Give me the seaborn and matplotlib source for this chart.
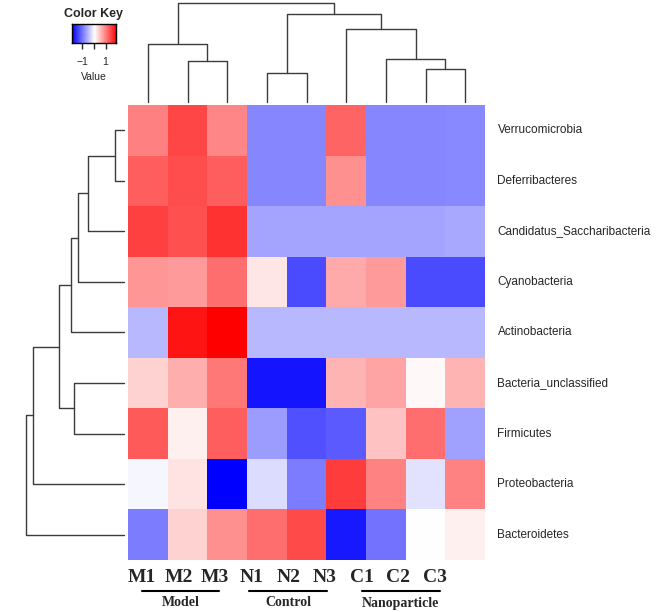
import numpy as np
import pandas as pd
import matplotlib.pyplot as plt
import seaborn as sns
from matplotlib.colors import LinearSegmentedColormap
from matplotlib.lines import Line2D

sns.set_style("white")
plt.rcParams['font.family'] = ['Liberation Sans', 'DejaVu Sans']

# samples (columns) and phyla (rows) in the order shown
samples = ['M1', 'M2', 'M3', 'N1', 'N2', 'N3', 'C1', 'C2', 'C3']
groups = ['Model', 'Control', 'Nanoparticle']
phyla = ['Verrucomicrobia', 'Deferribacteres', 'Candidatus_Saccharibacteria',
         'Cyanobacteria', 'Actinobacteria', 'Bacteria_unclassified',
         'Firmicutes', 'Proteobacteria', 'Bacteroidetes']

# row-scaled values (z-score)
zscore = [
    [0.95, 1.38, 0.90, -0.90, -0.90, 1.15, -0.90, -0.90, -0.88],
    [1.20, 1.33, 1.20, -0.90, -0.90, 0.82, -0.90, -0.90, -0.88],
    [1.42, 1.30, 1.52, -0.67, -0.67, -0.67, -0.67, -0.67, -0.65],
    [0.78, 0.75, 1.08, 0.19, -1.34, 0.63, 0.75, -1.34, -1.34],
    [-0.52, 1.75, 1.90, -0.52, -0.52, -0.52, -0.52, -0.52, -0.52],
    [0.34, 0.60, 1.00, -1.75, -1.75, 0.56, 0.67, 0.05, 0.56],
    [1.23, 0.11, 1.20, -0.74, -1.30, -1.23, 0.45, 1.08, -0.71],
    [-0.07, 0.22, -1.90, -0.26, -0.97, 1.45, 0.93, -0.22, 0.93],
    [-0.97, 0.34, 0.82, 1.08, 1.34, -1.71, -1.05, 0.00, 0.11],
]

# dendrograms: (left child, right child, height); leaves are 0..8, new nodes 9..
col_merges = [(1, 2, 41.0), (0, 9, 57.4), (3, 4, 29.0), (7, 8, 32.7),
              (6, 12, 42.7), (5, 13, 72.7), (11, 14, 88.0), (10, 15, 98.4)]
row_merges = [(0, 1, 9.3), (9, 2, 36.6), (10, 3, 46.0), (11, 4, 53.3),
              (5, 6, 50.6), (12, 13, 65.0), (14, 7, 91.0), (15, 8, 98.6)]

df = pd.DataFrame(zscore, index=phyla, columns=samples)
vlim = 1.9
cmap = LinearSegmentedColormap.from_list('bluered', ['blue', 'white', 'red'])

W, H = 658, 612
fig = plt.figure(figsize=(W / 100, H / 100), dpi=100)


def box(x0, y0, x1, y1):
    return [x0 / W, 1 - y1 / H, (x1 - x0) / W, (y1 - y0) / H]


def draw_dendro(ax, merges, n, top=True):
    pos = {i: (i + 0.5, 0.0) for i in range(n)}
    for k, (a, b, h) in enumerate(merges):
        xa, ha = pos[a]
        xb, hb = pos[b]
        xs = [xa, xa, xb, xb]
        hs = [ha, h, h, hb]
        if top:
            ax.plot(xs, hs, color='#3c3c3c', lw=1.0, clip_on=False)
        else:
            ax.plot(hs, xs, color='#3c3c3c', lw=1.0, clip_on=False)
        pos[n + k] = ((xa + xb) / 2, h)
    ax.axis('off')


# heatmap
ax_hm = fig.add_axes(box(128, 105, 485, 560))
sns.heatmap(df, ax=ax_hm, cmap=cmap, vmin=-vlim, vmax=vlim, cbar=False,
            xticklabels=False, yticklabels=True)
ax_hm.yaxis.tick_right()
ax_hm.tick_params(axis='y', length=0, pad=9, labelsize=8.5)
plt.setp(ax_hm.get_yticklabels(), rotation=0, ha='left', va='center')
ax_hm.set_xlabel('')
ax_hm.set_ylabel('')

# column dendrogram
ax_cd = fig.add_axes(box(128, 0, 485, 101.7))
draw_dendro(ax_cd, col_merges, len(samples), top=True)
ax_cd.set_xlim(0, len(samples))
ax_cd.set_ylim(0, 101.7)

# row dendrogram
ax_rd = fig.add_axes(box(0, 105, 124.3, 560))
draw_dendro(ax_rd, row_merges, len(phyla), top=False)
ax_rd.set_ylim(len(phyla), 0)
ax_rd.set_xlim(124.3, 0)

# colour key
ax_key = fig.add_axes(box(71.7, 24, 116, 42.7))
grad = np.linspace(-vlim, vlim, 256)[None, :]
ax_key.imshow(grad, aspect='auto', cmap=cmap, extent=[-vlim, vlim, 0, 1])
ax_key.set_yticks([])
ax_key.set_xticks([-1, 0, 1])
ax_key.set_xticklabels(['\u22121', '', '1'], fontsize=7.5)
ax_key.tick_params(axis='x', length=4, width=1, pad=6.5, bottom=True)
ax_key.set_xlabel('Value', fontsize=7.5, labelpad=3.5)
ax_key.set_title('Color Key', fontsize=9, fontweight='bold', pad=5)
for s in ax_key.spines.values():
    s.set_visible(True)
    s.set_color('black')
    s.set_linewidth(1)

# sample labels and group underlines
serif = ['Liberation Serif', 'DejaVu Serif']
for i, lab in enumerate(samples):
    fig.text((142 + i * 36.6) / W, 1 - 577 / H, lab, ha='center', va='center',
             fontsize=14, fontweight='bold', family=serif)

spans = [(141.7, 219.3), (249.3, 327.3), (361.7, 440.0)]
for (x0, x1), g in zip(spans, groups):
    fig.add_artist(Line2D([x0 / W, x1 / W], [1 - 590.7 / H] * 2,
                          color='black', lw=1.5))
    fig.text((x0 + x1) / 2 / W, 1 - 603 / H, g, ha='center', va='center',
             fontsize=10, fontweight='bold', family=serif)

fig.savefig('out.png', dpi=100)
